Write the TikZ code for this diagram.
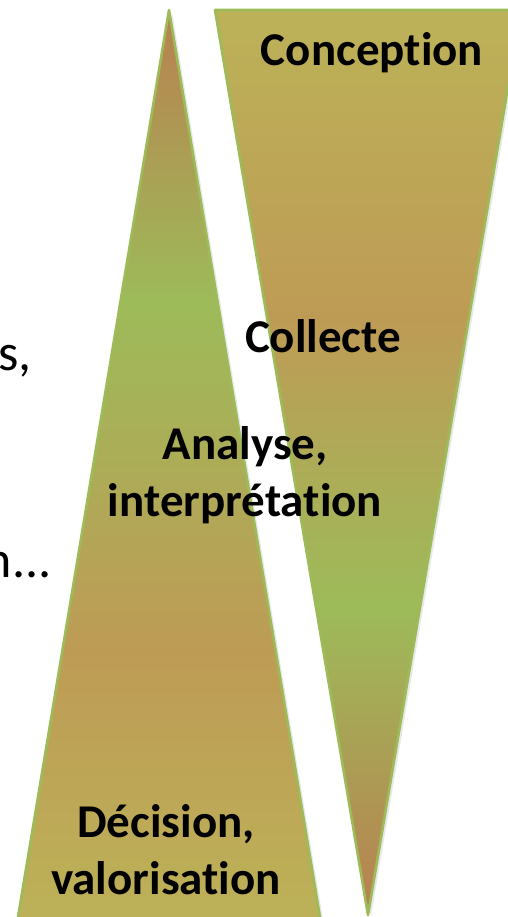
\documentclass[tikz,border=0pt]{standalone}
\usepackage{fontspec}
\setmainfont{Carlito}[Ligatures=NoCommon]
\usetikzlibrary{shadows}
\definecolor{lgreen}{RGB}{157,187,89}
\definecolor{ltan}{RGB}{190,155,85}
\definecolor{lolive}{RGB}{188,178,88}
\definecolor{lbrown}{RGB}{185,128,80}
\pgfdeclareverticalshading{upfade}{100bp}{color(0bp)=(lolive); color(25bp)=(lolive); color(40bp)=(ltan); color(59bp)=(lgreen); color(75bp)=(lbrown); color(100bp)=(lbrown)}
\pgfdeclareverticalshading{downfade}{100bp}{color(0bp)=(lbrown); color(25bp)=(lbrown); color(42bp)=(lgreen); color(58bp)=(ltan); color(75bp)=(lolive); color(100bp)=(lolive)}
\tikzstyle{phase} = [font=\fontsize{23.5}{28.5}\selectfont\bfseries, align=center, inner sep=0pt]
\tikzstyle{cut} = [font=\fontsize{26}{30}\selectfont, inner sep=0pt]
\tikzstyle{funnel} = [draw=lgreen, line width=1.3pt, line join=round, drop shadow={opacity=0.18, shadow xshift=1.5pt, shadow yshift=-1pt}]

\begin{document}
\begin{tikzpicture}[x=0.5pt, y=-0.5pt]
		\useasboundingbox (0,0) rectangle (508,917);
		% the two funnels
		\draw [funnel, shading=downfade] (215,10) -- (521,10) -- (368,915) -- cycle;
		\draw [funnel, shading=upfade] (169,10) -- (321.3,925) -- (16.7,925) -- cycle;
		% cut-off text on the left
		\node (cuts) [cut, anchor=base west] at (-2,370) {s,};
		\node (cutn) [cut, anchor=base east] at (52,577) {n...};
		% phases
		\node (conc) [phase, anchor=base] at (372,65) {Conception};
		\node (coll) [phase, anchor=base] at (323,352) {Collecte};
		\node (ana) [phase] at (245,475) {Analyse,\\interprétation};
		\node (dec) [phase] at (166,850) {Décision,\\valorisation};
\end{tikzpicture}
\end{document}
